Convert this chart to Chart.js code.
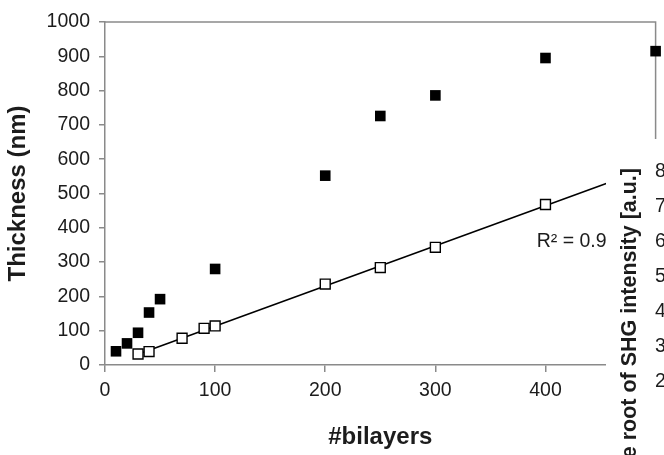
<!DOCTYPE html>
<html>
<head>
<meta charset="utf-8">
<script src="https://cdn.jsdelivr.net/npm/chart.js@4/dist/chart.umd.min.js"></script>
<style>
  html, body { margin: 0; padding: 0; background: #fff; overflow: hidden; }
  canvas { display: block; }
</style>
</head>
<body>
<canvas id="c" width="664" height="455"></canvas>
<script>
// Film thickness vs. number of deposited bilayers (filled squares)
const filmBilayers  = [10, 20, 30, 40, 50, 100, 200, 250, 300, 400, 500];
const filmThickness = [40, 63, 94, 153, 192, 280, 552, 726, 786, 895, 915];

// SHG signal series (open squares) with its linear fit
const shgBilayers = [30, 40, 70, 90, 100, 200, 250, 300, 400];
const shgSignal   = [32, 39, 78, 107, 114, 236, 284, 343, 468];

// Axis tick values
const bilayerTicks   = [0, 100, 200, 300, 400, 500];
const thicknessTicks = [0, 100, 200, 300, 400, 500, 600, 700, 800, 900, 1000];
const shgAxisTicks   = [2, 3, 4, 5, 6, 7, 8];

const FONT = '"Liberation Sans", Arial, Helvetica, sans-serif';
const AXIS_GRAY = '#8a8a8a';
const TEXT = '#1c1c1c';

// Least-squares line through the SHG points
function linearFit(xs, ys) {
  const n = xs.length;
  const mx = xs.reduce((a, b) => a + b, 0) / n;
  const my = ys.reduce((a, b) => a + b, 0) / n;
  let sxy = 0, sxx = 0, syy = 0;
  for (let i = 0; i < n; i++) {
    sxy += (xs[i] - mx) * (ys[i] - my);
    sxx += (xs[i] - mx) ** 2;
    syy += (ys[i] - my) ** 2;
  }
  const slope = sxy / sxx;
  return { slope, intercept: my - slope * mx, r2: (sxy * sxy) / (sxx * syy) };
}
const fit = linearFit(shgBilayers, shgSignal);
const trendStart = shgBilayers[0];
const trendEnd = bilayerTicks[bilayerTicks.length - 1];
const trendPoints = [trendStart, trendEnd].map(x => ({ x, y: fit.slope * x + fit.intercept }));

const toPoints = (xs, ys) => xs.map((x, i) => ({ x, y: ys[i] }));

// Frame (top and right edges of the plot box) and the fit label
const framePlugin = {
  id: 'frame',
  beforeDatasetsDraw(chart) {
    const { ctx, chartArea: a } = chart;
    ctx.save();
    ctx.strokeStyle = AXIS_GRAY;
    ctx.lineWidth = 1.5;
    ctx.beginPath();
    ctx.moveTo(a.left, a.top);
    ctx.lineTo(a.right, a.top);
    ctx.lineTo(a.right, a.bottom);
    ctx.stroke();
    ctx.restore();
  },
  afterDatasetsDraw(chart) {
    const { ctx, scales: { x, y } } = chart;
    ctx.save();
    ctx.fillStyle = TEXT;
    ctx.font = '19.5px ' + FONT;
    ctx.textAlign = 'left';
    ctx.textBaseline = 'middle';
    ctx.fillText('R\u00B2 = ' + fit.r2.toFixed(4), x.getPixelForValue(392), y.getPixelForValue(359));
    ctx.restore();
  }
};

// Right-hand SHG panel edge with its own axis labels
const shgPanelPlugin = {
  id: 'shgPanel',
  afterDraw(chart) {
    const { ctx, width, height } = chart;
    const panelLeft = 606, panelTop = 139;
    ctx.save();
    ctx.fillStyle = '#ffffff';
    ctx.fillRect(panelLeft, panelTop, width - panelLeft, height - panelTop);

    // tick labels of the SHG axis
    const shgPixel = v => 452 - 35 * v;
    ctx.fillStyle = TEXT;
    ctx.font = '19.5px ' + FONT;
    ctx.textAlign = 'left';
    ctx.textBaseline = 'middle';
    shgAxisTicks.forEach(v => ctx.fillText(String(v), 655, shgPixel(v)));

    // rotated axis title
    ctx.translate(630, 168);
    ctx.rotate(-Math.PI / 2);
    ctx.font = 'bold 21.5px ' + FONT;
    ctx.textAlign = 'right';
    ctx.textBaseline = 'middle';
    ctx.fillText('Square root of SHG intensity [a.u.]', 0, 0);
    ctx.restore();
  }
};

new Chart(document.getElementById('c'), {
  type: 'scatter',
  data: {
    datasets: [
      {
        label: 'Thickness',
        data: toPoints(filmBilayers, filmThickness),
        pointStyle: 'rect',
        pointRadius: 7.5,
        backgroundColor: '#000',
        borderColor: '#000',
        borderWidth: 0,
        clip: false,
        order: 1
      },
      {
        label: 'SHG',
        data: toPoints(shgBilayers, shgSignal),
        pointStyle: 'rect',
        pointRadius: 7,
        backgroundColor: '#fff',
        borderColor: '#000',
        borderWidth: 1.4,
        clip: false,
        order: 0
      },
      {
        label: 'Linear fit',
        type: 'line',
        data: trendPoints,
        borderColor: '#000',
        borderWidth: 1.6,
        pointRadius: 0,
        fill: false,
        clip: false,
        order: 2
      }
    ]
  },
  options: {
    responsive: false,
    animation: false,
    devicePixelRatio: 1,
    layout: { padding: { top: 22, right: 4, left: 0, bottom: 0 } },
    plugins: { legend: { display: false }, tooltip: { enabled: false } },
    scales: {
      x: {
        type: 'linear',
        min: 0,
        max: 500,
        afterBuildTicks: s => { s.ticks = bilayerTicks.map(v => ({ value: v })); },
        afterFit: s => { s.height = 90; s.paddingLeft = 0; s.paddingRight = 0; },
        grid: { drawOnChartArea: false, drawTicks: true, tickLength: 7, color: AXIS_GRAY, lineWidth: 1.5 },
        border: { display: true, color: AXIS_GRAY, width: 1.5 },
        ticks: { color: TEXT, font: { family: FONT, size: 19.5 }, padding: 7, maxRotation: 0, autoSkip: false, callback: v => String(v) },
        title: {
          display: true,
          text: '#bilayers',
          color: TEXT,
          font: { family: FONT, size: 24, weight: 'bold' },
          padding: { top: 0, bottom: 3 }
        }
      },
      y: {
        type: 'linear',
        min: 0,
        max: 1000,
        afterBuildTicks: s => { s.ticks = thicknessTicks.map(v => ({ value: v })); },
        afterFit: s => { s.width = 105; s.paddingTop = 0; s.paddingBottom = 0; },
        grid: { drawOnChartArea: false, drawTicks: true, tickLength: 6, color: AXIS_GRAY, lineWidth: 1.5 },
        border: { display: true, color: AXIS_GRAY, width: 1.5 },
        ticks: { color: TEXT, font: { family: FONT, size: 19.5 }, padding: 9, autoSkip: false, callback: v => String(v) },
        title: {
          display: true,
          text: 'Thickness (nm)',
          color: TEXT,
          font: { family: FONT, size: 24, weight: 'bold' },
          padding: { top: 4, bottom: 0 }
        }
      }
    }
  },
  plugins: [framePlugin, shgPanelPlugin]
});
</script>
</body>
</html>
